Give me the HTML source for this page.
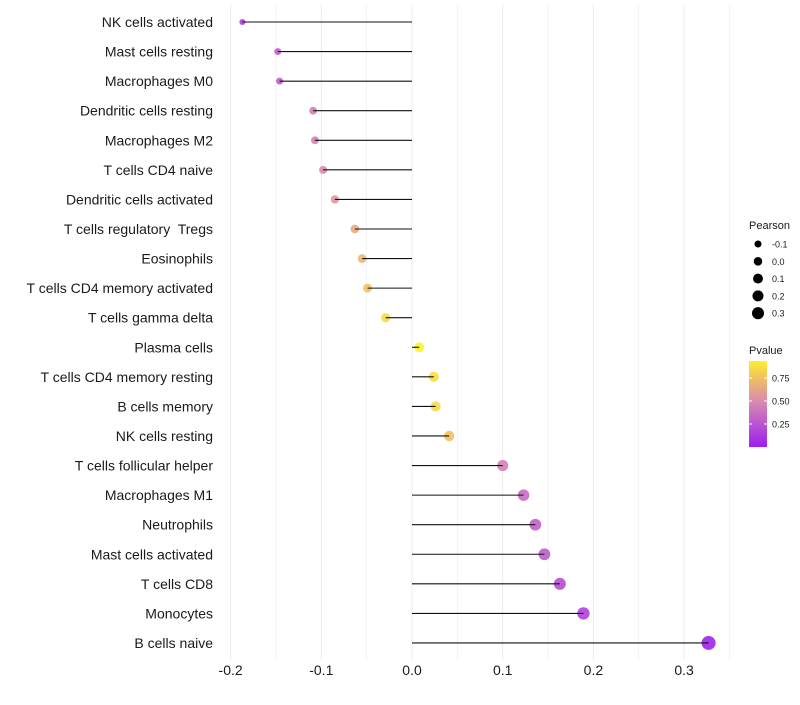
<!DOCTYPE html>
<html><head><meta charset="utf-8"><style>
body{margin:0;background:#fff;font-family:"Liberation Sans",sans-serif;}
</style></head><body>
<svg id="chart" width="800" height="700" xmlns="http://www.w3.org/2000/svg" font-family="Liberation Sans, sans-serif"></svg>
<script>
const categories=["NK cells activated","Mast cells resting","Macrophages M0","Dendritic cells resting","Macrophages M2","T cells CD4 naive","Dendritic cells activated","T cells regulatory  Tregs","Eosinophils","T cells CD4 memory activated","T cells gamma delta","Plasma cells","T cells CD4 memory resting","B cells memory","NK cells resting","T cells follicular helper","Macrophages M1","Neutrophils","Mast cells activated","T cells CD8","Monocytes","B cells naive"];
const pearson=[-0.187,-0.148,-0.146,-0.109,-0.107,-0.098,-0.085,-0.063,-0.055,-0.049,-0.029,0.008,0.024,0.026,0.041,0.100,0.123,0.136,0.146,0.163,0.189,0.327];
const pvalues=[0.15,0.3,0.3,0.45,0.45,0.5,0.55,0.65,0.7,0.75,0.85,0.95,0.87,0.85,0.75,0.45,0.35,0.3,0.28,0.22,0.15,0.02];
const xTicks=[-0.2,-0.1,0.0,0.1,0.2,0.3];
const sizeBreaks=[-0.1,0.0,0.1,0.2,0.3];
const pBreaks=[0.25,0.5,0.75];
const NS="http://www.w3.org/2000/svg";
const svg=document.getElementById('chart');
const X=v=>412+v*907;
const Y=i=>22+i*29.57;
const R=v=>Math.sqrt(Math.max(23.7+77.4*v,2));
function mk(t,a,p){const e=document.createElementNS(NS,t);for(const k in a)e.setAttribute(k,a[k]);(p||svg).appendChild(e);return e;}
const stops=[[0,[155,31,240]],[0.5,[217,140,174]],[0.75,[242,192,96]],[1,[255,255,32]]];
function col(p){for(let i=1;i<stops.length;i++){if(p<=stops[i][0]){const a=stops[i-1],b=stops[i],t=(p-a[0])/(b[0]-a[0]);const c=a[1].map((v,k)=>Math.round(v+(b[1][k]-v)*t));return `rgb(${c.join(',')})`;}}return 'rgb(255,255,32)';}
// grid
for(let j=-4;j<=7;j++){const k=j*0.05;const g=mk('line',{x1:X(k),x2:X(k),y1:5,y2:660,stroke:'#ececec','stroke-width':j%2===0?1.0:0.6});

}
xTicks.forEach(t=>{const tx=mk('text',{x:X(t),y:675,'text-anchor':'middle','font-size':14,fill:'#1a1a1a'});tx.textContent=t.toFixed(1);

});
categories.forEach((c,i)=>{
const lb=mk('text',{x:213,y:Y(i)+5,'text-anchor':'end','font-size':14,fill:'#1a1a1a',style:'white-space:pre'});lb.textContent=c;


const pt=mk('circle',{cx:X(pearson[i]),cy:Y(i),r:R(pearson[i]),fill:col(pvalues[i]),'fill-opacity':0.9});


const ln=mk('line',{x1:X(0),x2:X(pearson[i]),y1:Y(i),y2:Y(i),stroke:'#111','stroke-width':1.1});


});
// legends
const t1=mk('text',{x:749,y:229,'font-size':11,fill:'#1a1a1a'});t1.textContent='Pearson';


sizeBreaks.forEach((b,i)=>{const y=244+i*17.3;
const c=mk('circle',{cx:758,cy:y,r:R(b)*0.88,fill:'#000'});


const t=mk('text',{x:772,y:y+3.5,'font-size':9,fill:'#1a1a1a'});t.textContent=b.toFixed(1);

});
const t2=mk('text',{x:749,y:354,'font-size':11,fill:'#1a1a1a'});t2.textContent='Pvalue';


const defs=mk('defs',{});const lg=mk('linearGradient',{id:'g',x1:0,y1:1,x2:0,y2:0},defs);
for(let p=0;p<=1.001;p+=0.05)mk('stop',{offset:p,'stop-color':col(p*0.935)},lg);
const bar=mk('rect',{x:749,y:361,width:18,height:86,fill:'url(#g)'});


pBreaks.forEach(p=>{const y=447-p*92;
mk('line',{x1:749,x2:752,y1:y,y2:y,stroke:'#fff'});mk('line',{x1:764,x2:767,y1:y,y2:y,stroke:'#fff'});
const t=mk('text',{x:772,y:y+3.5,'font-size':9,fill:'#1a1a1a'});t.textContent=p.toFixed(2);

});
</script>
</body></html>
